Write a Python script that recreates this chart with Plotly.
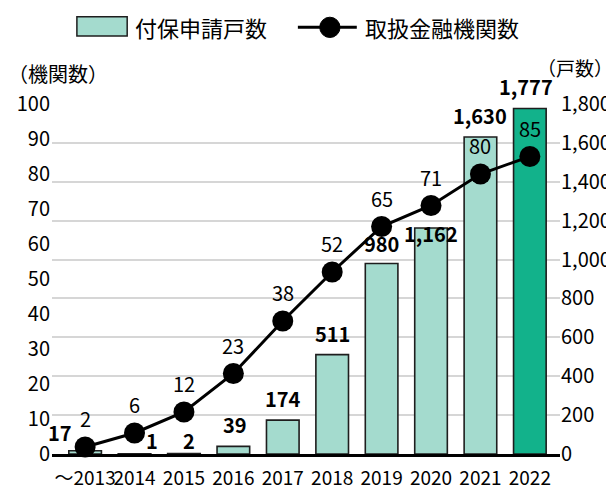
import plotly.graph_objects as go

years = ["～2013", "2014", "2015", "2016", "2017", "2018", "2019", "2020", "2021", "2022"]
applications = [17, 1, 2, 39, 174, 511, 980, 1162, 1630, 1777]
institutions = [2, 6, 12, 23, 38, 52, 65, 71, 80, 85]

FONT = "Noto Sans CJK JP"
MINT = "#a4dbce"
bar_colors = [MINT] * 9 + ["#12b28b"]
# nudges for the bar labels so they clear the line and its markers
label_xshift = [-25, 17, 5, 2, 0, 0, 0, 0, 0, -4]
label_yshift = [2, -3, -3, 5, 5, 5, 3, -22, 5, 5]

fig = go.Figure()

fig.add_trace(go.Bar(
    x=years, y=applications, name="付保申請戸数",
    marker=dict(color=bar_colors, line=dict(color="#1e1e1e", width=1.6)),
    width=0.66, yaxis="y",
))

fig.add_trace(go.Scatter(
    x=years, y=institutions, name="取扱金融機関数",
    mode="lines+markers",
    line=dict(color="black", width=3),
    marker=dict(color="black", size=21),
    yaxis="y2", cliponaxis=False,
))

for i, (v, dx, dy) in enumerate(zip(applications, label_xshift, label_yshift)):
    fig.add_annotation(
        x=i, y=v, xref="x", yref="y", text=f"<b>{v:,}</b>",
        showarrow=False, yanchor="bottom", xshift=dx, yshift=dy,
        font=dict(family=FONT, size=20, color="black"),
    )

for i, v in enumerate(institutions):
    fig.add_annotation(
        x=i, y=v, xref="x", yref="y2", text=str(v),
        showarrow=False, yanchor="bottom", yshift=12,
        font=dict(family=FONT, size=20, color="black"),
    )

# axis unit titles
fig.add_annotation(text="（機関数）", xref="paper", yref="paper", x=-46 / 508, y=(446 - 65) / 350,
                   xanchor="left", yanchor="middle", showarrow=False,
                   font=dict(family=FONT, size=20, color="black"))
fig.add_annotation(text="（戸数）", xref="paper", yref="paper", x=(607 - 44) / 508, y=(446 - 59) / 350,
                   xanchor="right", yanchor="middle", showarrow=False,
                   font=dict(family=FONT, size=19, color="black"))

# hand-made legend (wide swatch like the original)
fig.add_shape(type="rect", xref="paper", yref="paper", x0=0.049, x1=0.148, y0=1.194, y1=1.249,
              fillcolor=MINT, line=dict(color="#1e1e1e", width=1.5))
fig.add_annotation(text="付保申請戸数", xref="paper", yref="paper", x=0.160, y=1.219,
                   xanchor="left", yanchor="middle", showarrow=False,
                   font=dict(family=FONT, size=22, color="black"))
fig.add_shape(type="line", xref="paper", yref="paper", x0=0.484, x1=0.600, y0=1.219, y1=1.219,
              line=dict(color="black", width=3))
fig.add_shape(type="circle", xref="paper", yref="paper", x0=0.527, x1=0.567, y0=1.190, y1=1.248,
              fillcolor="black", line=dict(color="black", width=1))
fig.add_annotation(text="取扱金融機関数", xref="paper", yref="paper", x=0.612, y=1.219,
                   xanchor="left", yanchor="middle", showarrow=False,
                   font=dict(family=FONT, size=22, color="black"))

fig.update_layout(
    width=614, height=490,
    margin=dict(l=44, r=62, t=96, b=44),
    paper_bgcolor="white", plot_bgcolor="white",
    font=dict(family=FONT, size=20, color="black"),
    showlegend=False,
    xaxis=dict(range=[-0.67, 9.61], showline=True, linecolor="black", linewidth=3,
               ticks="", tickangle=0, tickfont=dict(size=19), ticklabelstandoff=5,
               automargin=False),
    yaxis=dict(range=[0, 1800], dtick=200, side="right", tickformat=",",
               showgrid=True, gridcolor="#d6d6d6", gridwidth=2,
               zeroline=False, ticklabelstandoff=0, automargin=False),
    yaxis2=dict(range=[0, 100], dtick=10, side="left", overlaying="y",
                showgrid=False, zeroline=False, ticklabelstandoff=1, automargin=False),
)

fig.write_html("out.html")
